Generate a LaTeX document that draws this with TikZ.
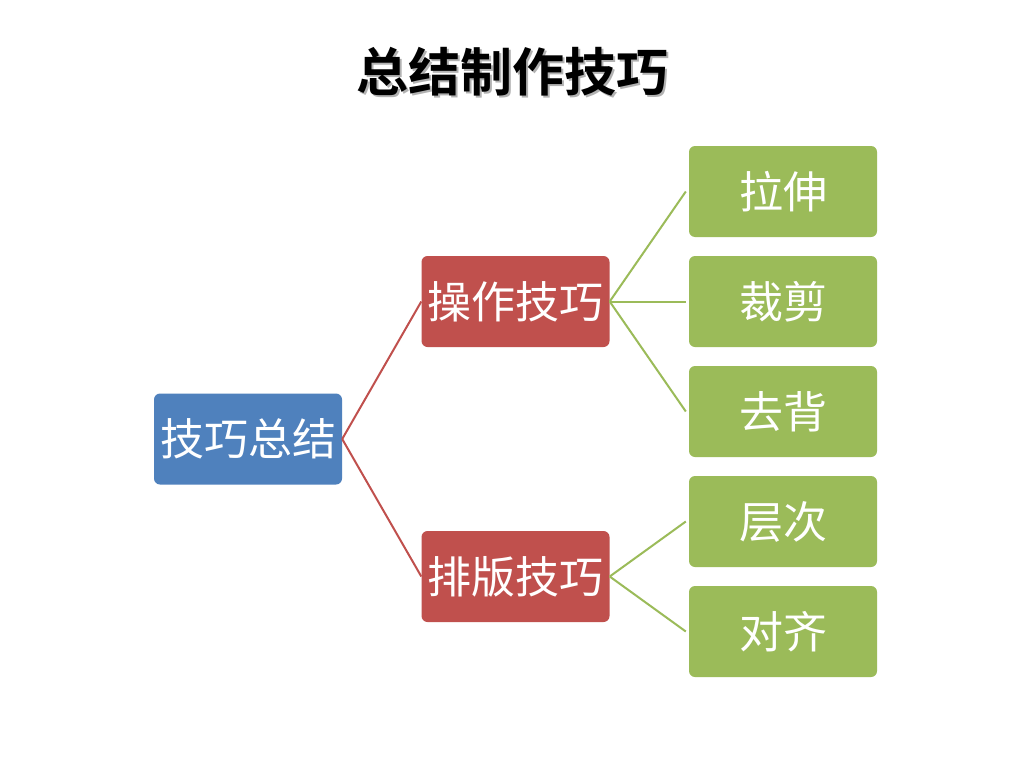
\documentclass[tikz,border=0pt]{standalone}
\usepackage{fontspec}
\newfontfamily\cjk[BoldFont={Noto Sans CJK SC Bold}]{Noto Sans CJK SC}
\usetikzlibrary{calc}

\definecolor{rootblue}{HTML}{4F81BD}
\definecolor{midred}{HTML}{C0504D}
\definecolor{leafgreen}{HTML}{9BBB59}

\begin{document}
\begin{tikzpicture}[x=1pt,y=-1pt,
	box/.style={rounded corners=6pt, minimum width=188pt, minimum height=91pt,
		inner sep=0pt, text=white, font=\cjk\fontsize{44}{48}\selectfont},
	rootbox/.style={box, fill=rootblue},
	midbox/.style={box, fill=midred},
	leafbox/.style={box, fill=leafgreen},
	redline/.style={draw=midred, line width=2pt},
	greenline/.style={draw=leafgreen, line width=2pt}]

	\useasboundingbox[fill=white] (0,0) rectangle (1024,768);

	% title with its shadow
	\node (titleshadow)[text=black!30, font=\cjk\bfseries\fontsize{52}{56}\selectfont] at (514,74) {总结制作技巧};
	\node (title)[font=\cjk\bfseries\fontsize{52}{56}\selectfont] at (512,72) {总结制作技巧};

	\node (R)[rootbox] at (248,439) {技巧总结};

	\node (M1)[midbox] at (515.5,301.5) {操作技巧};
	\node (M2)[midbox] at (515.5,576.5) {排版技巧};

	\node (L1)[leafbox] at (783,191.5) {拉伸};
	\node (L2)[leafbox] at (783,301.5) {裁剪};
	\node (L3)[leafbox] at (783,411.5) {去背};
	\node (L4)[leafbox] at (783,521.5) {层次};
	\node (L5)[leafbox] at (783,631.5) {对齐};

	\draw [redline] (R.east) to (M1.west);
	\draw [redline] (R.east) to (M2.west);

	\draw [greenline] (M1.east) to ($(L1.west)+(-3,0)$);
	\draw [greenline] (M1.east) to ($(L2.west)+(-3,0)$);
	\draw [greenline] (M1.east) to ($(L3.west)+(-3,0)$);
	\draw [greenline] (M2.east) to ($(L4.west)+(-3,0)$);
	\draw [greenline] (M2.east) to ($(L5.west)+(-3,0)$);

\end{tikzpicture}
\end{document}
